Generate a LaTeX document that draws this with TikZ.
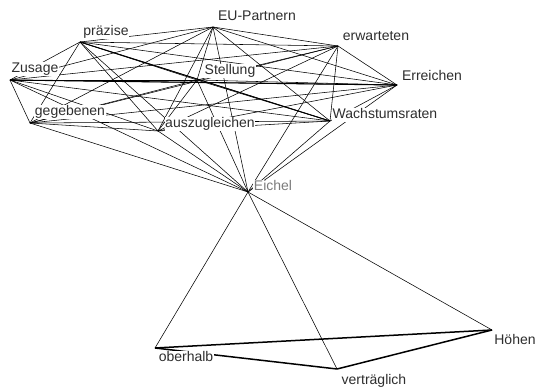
\documentclass[tikz,border=0pt]{standalone}
\usepackage{fontspec}
\setmainfont{Liberation Sans}
\definecolor{WordText}{HTML}{2E2E2E}
\definecolor{WordHead}{HTML}{7C7C7C}

\begin{document}
\begin{tikzpicture}[
    x=1pt,y=-1pt,
    word/.style={fill=white,inner sep=0.6pt,text height=10pt,text depth=3pt,text=WordText,font=\fontsize{14}{16}\selectfont},
    link/.style={draw=black,line width=0.55pt},
    strong/.style={draw=black,line width=1.5pt}
  ]
  \useasboundingbox (0,0) rectangle (536,388);
  % anchor points of the words
  \coordinate (pr) at (80,42);
  \coordinate (eu) at (213,27);
  \coordinate (er) at (338,46);
  \coordinate (zu) at (10,80);
  \coordinate (st) at (197,80);
  \coordinate (rc) at (397,85);
  \coordinate (ge) at (30,123);
  \coordinate (au) at (158,131);
  \coordinate (wa) at (330,121);
  \coordinate (ei) at (248,192);
  \coordinate (hoe) at (492,330);
  \coordinate (ob) at (155,348);
  \coordinate (ve) at (337,369);
  % upper cluster, every pair
  \foreach \a [count=\i] in {pr,eu,er,zu,st,rc,ge,au,wa,ei} {
    \foreach \b [count=\j] in {pr,eu,er,zu,st,rc,ge,au,wa,ei} {
      \ifnum\j>\i \draw[link] (\a) -- (\b); \fi
    }
  }
  \draw[link,line width=1.1pt] (zu) -- (rc);
  \draw[link,line width=0.9pt] (pr) -- (wa);
  % lower group
  \draw[link] (ei) -- (ob);
  \draw[link] (ei) -- (ve);
  \draw[link] (ei) -- (hoe);
  \draw[strong] (ob) -- (hoe);
  \draw[strong] (ob) -- (ve);
  \draw[strong] (ve) -- (hoe);
  % words
  \node[word] (pr-l) at (106,32) {präzise};
  \node[word] (eu-l) at (257,17) {EU-Partnern};
  \node[word] (er-l) at (376,37) {erwarteten};
  \node[word] (zu-l) at (35,69) {Zusage};
  \node[word] (st-l) at (230,71) {Stellung};
  \node[word] (rc-l) at (432,77) {Erreichen};
  \node[word] (ge-l) at (70,112) {gegebenen};
  \node[word] (au-l) at (210,124) {auszugleichen};
  \node[word] (wa-l) at (385,115) {Wachstumsraten};
  \node[word,text=WordHead] (ei-l) at (273,187) {Eichel};
  \node[word] (hoe-l) at (515,341) {Höhen};
  \node[word] (ob-l) at (186,358) {oberhalb};
  \node[word] (ve-l) at (374,381) {verträglich};
\end{tikzpicture}
\end{document}
